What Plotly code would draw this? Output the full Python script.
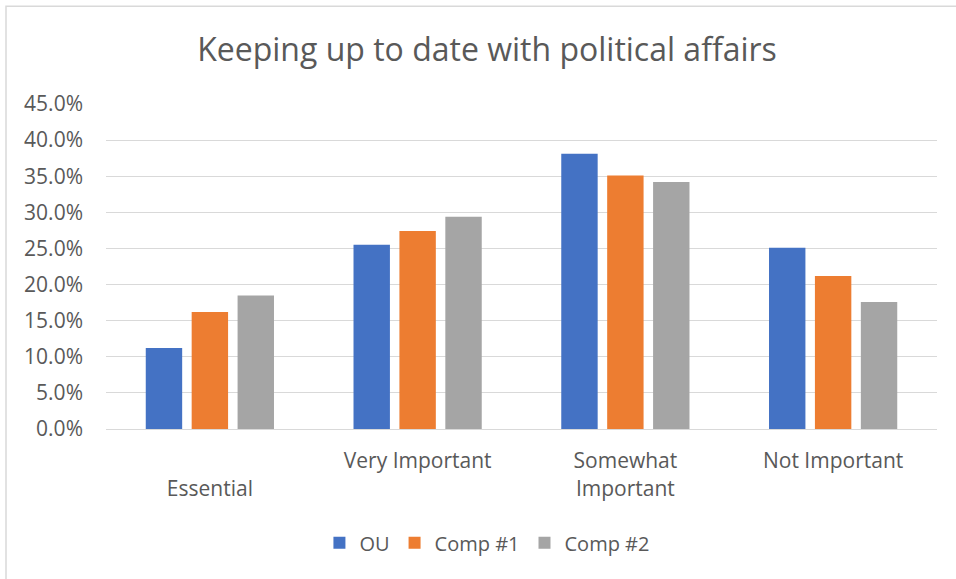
import plotly.graph_objects as go

categories = ["Essential", "Very Important", "Somewhat Important", "Not Important"]
tick_labels = ["<br>Essential", "Very Important", "Somewhat<br>Important", "Not Important"]
series_names = ["OU", "Comp #1", "Comp #2"]
ou = [0.112, 0.255, 0.381, 0.251]
comp1 = [0.162, 0.274, 0.351, 0.212]
comp2 = [0.185, 0.294, 0.342, 0.176]
colors = ["#4472C4", "#ED7D31", "#A5A5A5"]
y_ticks = [0.0, 0.05, 0.10, 0.15, 0.20, 0.25, 0.30, 0.35, 0.40, 0.45]

FONT = "Open Sans"
TXT = "#595959"

fig = go.Figure()
for name, vals, col in zip(series_names, [ou, comp1, comp2], colors):
    fig.add_trace(go.Bar(x=categories, y=vals, name=name,
                         marker=dict(color=col, line=dict(width=0))))

fig.update_layout(
    width=956, height=579,
    margin=dict(l=106, r=19, t=103.5, b=150, autoexpand=False),
    paper_bgcolor="white", plot_bgcolor="white",
    barmode="group", bargap=0.337, bargroupgap=0.207,
    title=dict(text="Keeping up to date with political affairs",
               x=(487 - 106) / 831, xanchor="center", xref="paper",
               y=1 - 50 / 579, yanchor="middle",
               font=dict(family=FONT, size=32, color=TXT)),
    font=dict(family=FONT, color=TXT),
    showlegend=True,
    legend=dict(orientation="h", x=0.459, xanchor="center", y=-0.350, yanchor="middle",
                font=dict(family=FONT, size=20, color=TXT), itemwidth=30,
                bgcolor="rgba(0,0,0,0)"),
    xaxis=dict(tickmode="array", tickvals=categories, ticktext=tick_labels,
               tickfont=dict(family=FONT, size=21, color=TXT),
               showline=True, linecolor="#D9D9D9", linewidth=1,
               showgrid=False, ticks="", ticklabelstandoff=13),
    yaxis=dict(range=[0, 0.45], tickvals=y_ticks, tickformat=".1%",
               tickfont=dict(family=FONT, size=21, color=TXT),
               showgrid=True, gridcolor="#D9D9D9", gridwidth=1,
               zeroline=True, zerolinecolor="#D9D9D9", zerolinewidth=1,
               showline=False, ticks="", ticklabelstandoff=22),
    shapes=[dict(type="rect", xref="paper", yref="paper",
                 x0=(6 - 106) / 831, x1=(980 - 106) / 831,
                 y0=(429 - 600) / 325.5, y1=(429 - 5.5) / 325.5,
                 line=dict(color="#D9D9D9", width=1.5), fillcolor="rgba(0,0,0,0)",
                 layer="below")],
)

fig.write_html("out.html", config={"displayModeBar": False},
               post_script="document.body.style.margin='0';")
